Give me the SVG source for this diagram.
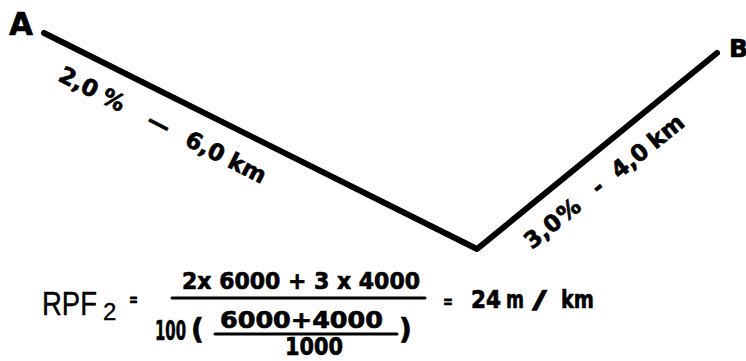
<svg xmlns="http://www.w3.org/2000/svg" width="746" height="361" viewBox="0 0 746 361">
<style>
.t{font-family:"DejaVu Sans","Liberation Sans",sans-serif;font-weight:bold;fill:#000;stroke:#000;stroke-width:0.7;stroke-linejoin:round}
.r{font-family:"Liberation Sans","DejaVu Sans",sans-serif;fill:#000;stroke:#000;stroke-width:0.4}
.ln{fill:none;stroke:#000;stroke-width:6;stroke-linecap:round;stroke-linejoin:round}
.bar{stroke:#000;stroke-width:3;stroke-linecap:round}
</style>
<rect width="746" height="361" fill="#fff"/>
<g id="connectors">
<polyline class="ln" points="44,33 477,249 717,53"/>
</g>
<g id="nodeA"><text class="t" x="9" y="35" font-size="32" textLength="24" lengthAdjust="spacingAndGlyphs">A</text></g>
<g id="nodeB"><text class="t" x="729" y="57" font-size="25">B</text></g>
<g id="label1"><text class="t" font-size="23" transform="translate(57,80) rotate(27)"><tspan x="0">2,0</tspan><tspan x="48">%</tspan><tspan x="99">—</tspan><tspan x="142">6,0</tspan><tspan x="190">km</tspan></text></g>
<g id="label2"><text class="t" font-size="23" transform="translate(532,250) rotate(-39)"><tspan x="0">3,0</tspan><tspan x="42">%</tspan><tspan x="86">-</tspan><tspan x="112">4,0</tspan><tspan x="159">km</tspan></text></g>
<g id="formula">
<text class="r" x="42" y="315" font-size="34" textLength="55" lengthAdjust="spacingAndGlyphs">RPF</text>
<text class="r" x="103" y="320" font-size="24">2</text>
<text class="t" x="129" y="306" font-size="18" textLength="9" lengthAdjust="spacingAndGlyphs">=</text>
<text class="t" x="182" y="289" font-size="23" textLength="238" lengthAdjust="spacingAndGlyphs">2x 6000 + 3 x 4000</text>
<line class="bar" x1="172" y1="298" x2="425" y2="298"/>
<text class="t" x="155" y="340" font-size="26" textLength="31" lengthAdjust="spacingAndGlyphs">100</text>
<text class="t" x="191" y="339" font-size="28">(</text>
<text class="t" x="220" y="328" font-size="23" textLength="163" lengthAdjust="spacingAndGlyphs">6000+4000</text>
<line class="bar" x1="215" y1="334" x2="397" y2="334"/>
<text class="t" x="285" y="355" font-size="24" textLength="58" lengthAdjust="spacingAndGlyphs">1000</text>
<text class="t" x="399" y="339" font-size="28">)</text>
<text class="t" x="443" y="308" font-size="18" textLength="10" lengthAdjust="spacingAndGlyphs">=</text>
<text class="t" x="471" y="308" font-size="25" textLength="30" lengthAdjust="spacingAndGlyphs">24</text>
<text class="t" x="506" y="308" font-size="25" textLength="18" lengthAdjust="spacingAndGlyphs">m</text>
<text class="t" x="532" y="308" font-size="25" textLength="15" lengthAdjust="spacingAndGlyphs">/</text>
<text class="t" x="561" y="308" font-size="25" textLength="33" lengthAdjust="spacingAndGlyphs">km</text>
</g>
</svg>
